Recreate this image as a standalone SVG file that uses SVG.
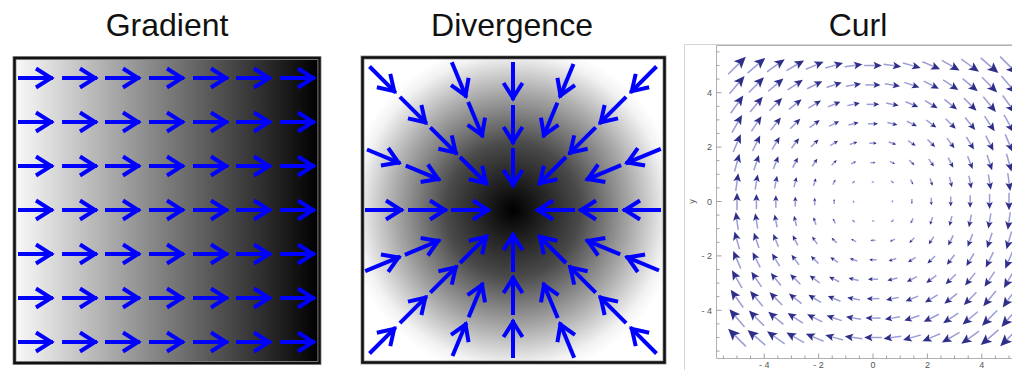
<svg xmlns="http://www.w3.org/2000/svg" xmlns:xlink="http://www.w3.org/1999/xlink" width="1012" height="370" viewBox="0 0 1012 370">
<style>
.title{font-family:"Liberation Sans",Arial,sans-serif;font-size:32px;fill:#111;text-anchor:middle}
.frame{fill:none;stroke:#111;stroke-width:2.5}
.frameo{fill:none;stroke:#9a9a9a;stroke-width:4}
.ba{fill:none;stroke:#0000ff;stroke-width:4;marker-end:url(#hd)}
.sh{fill:none;stroke:#9d9dd6;stroke-width:1.5;vector-effect:non-scaling-stroke}
.hdc{fill:#2f2f8a}
.tick{fill:none;stroke:#a0a0a0;stroke-width:1}
.tl{font-family:"Liberation Sans",Arial,sans-serif;font-size:9px;fill:#555}
</style>
<defs>
<marker id="hd" markerUnits="userSpaceOnUse" orient="auto" markerWidth="40" markerHeight="40" viewBox="-20 -20 40 40" refX="0" refY="0" overflow="visible">
<path d="M-17,-9.5 L-2,0 L-17,9.5" fill="none" stroke="#0000ff" stroke-width="4" stroke-linejoin="miter"/>
</marker>
<linearGradient id="lg" x1="14" y1="0" x2="318" y2="0" gradientUnits="userSpaceOnUse">
<stop offset="0" stop-color="#fafafa"/>
<stop offset="1" stop-color="#000"/>
</linearGradient>
<radialGradient id="rg" cx="513" cy="210" r="168" gradientUnits="userSpaceOnUse">
<stop offset="0" stop-color="#000"/>
<stop offset="0.4" stop-color="#4a4a4a"/>
<stop offset="0.7" stop-color="#a8a8a8"/>
<stop offset="0.92" stop-color="#f2f2f2"/>
<stop offset="1" stop-color="#fff"/>
</radialGradient>
<g id="ar" transform="scale(0.1302)">
<path class="sh" d="M-0.5 0H0.12"/>
<path class="hdc" d="M0.5 0L0.03 0.21L0.13 0L0.03 -0.21Z"/>
</g>
</defs>

<g id="titles">
<text class="title" x="167" y="36">Gradient</text>
<text class="title" x="512" y="36">Divergence</text>
<text class="title" x="858" y="36">Curl</text>
</g>

<g id="panel-gradient">
<rect x="14.5" y="58" width="305" height="305" fill="url(#lg)"/>
<rect class="frameo" x="14.5" y="58" width="305" height="305"/>
<rect class="frame" x="14.5" y="58" width="305" height="305"/>
<g id="grad-arrows">
<g id="grow">
<path class="ba" d="M18 78H53"/>
<path class="ba" d="M62 78H97"/>
<path class="ba" d="M105 78H140"/>
<path class="ba" d="M149 78H184"/>
<path class="ba" d="M193 78H228"/>
<path class="ba" d="M236 78H271"/>
<path class="ba" d="M280 78H315"/>
</g>
<use xlink:href="#grow" transform="translate(0,44)"/>
<use xlink:href="#grow" transform="translate(0,88)"/>
<use xlink:href="#grow" transform="translate(0,132)"/>
<use xlink:href="#grow" transform="translate(0,176)"/>
<use xlink:href="#grow" transform="translate(0,220)"/>
<use xlink:href="#grow" transform="translate(0,264)"/>
</g>
</g>

<g id="panel-divergence">
<rect x="362.5" y="57.5" width="302" height="305" fill="url(#rg)"/>
<rect class="frameo" x="362.5" y="57.5" width="302" height="305"/>
<rect class="frame" x="362.5" y="57.5" width="302" height="305"/>
<g id="div-arrows" transform="translate(513,210)">
<g id="dq">
<path class="ba" d="M0 -62V-23"/>
<path class="ba" d="M0 -105V-66"/>
<path class="ba" d="M0 -148V-110"/>
<path class="ba" d="M-44.8 -108.1L-30.2 -73"/>
<path class="ba" d="M-61.2 -147.8L-46.7 -112.7"/>
<path class="ba" d="M-53 -53L-25.5 -25.5"/>
<path class="ba" d="M-82.7 -82.7L-55.9 -55.9"/>
<path class="ba" d="M-113.1 -113.1L-86.3 -86.3"/>
<path class="ba" d="M-143.5 -143.5L-117.4 -117.4"/>
<path class="ba" d="M-107.2 -44.4L-73 -30.2"/>
<path class="ba" d="M-146 -60.5L-112.7 -46.7"/>
</g>
<use xlink:href="#dq" transform="rotate(90)"/>
<use xlink:href="#dq" transform="rotate(180)"/>
<use xlink:href="#dq" transform="rotate(270)"/>
</g>
</g>

<g id="panel-curl">
<path d="M684.5 370V44.5H1012" fill="none" stroke="#d4d4d4" stroke-width="1"/>
<path d="M1012 45.5H716.5V358.5H1012" fill="none" stroke="#b0b0b0" stroke-width="1"/>
<path class="tick" d="M716.5 92.7h5M716.5 147.1h5M716.5 201.5h5M716.5 255.9h5M716.5 310.3h5
M716.5 51.9h3M716.5 65.5h3M716.5 79.1h3M716.5 106.3h3M716.5 119.9h3M716.5 133.5h3M716.5 160.7h3M716.5 174.3h3M716.5 187.9h3M716.5 215.1h3M716.5 228.7h3M716.5 242.3h3M716.5 269.5h3M716.5 283.1h3M716.5 296.7h3M716.5 323.9h3M716.5 337.5h3M716.5 351.1h3"/>
<path class="tick" d="M764.2 358.5v-5M818.6 358.5v-5M873 358.5v-5M927.4 358.5v-5M981.8 358.5v-5
M723.4 358.5v-3M737 358.5v-3M750.6 358.5v-3M777.8 358.5v-3M791.4 358.5v-3M805 358.5v-3M832.2 358.5v-3M845.8 358.5v-3M859.4 358.5v-3M886.6 358.5v-3M900.2 358.5v-3M913.8 358.5v-3M941 358.5v-3M954.6 358.5v-3M968.2 358.5v-3M995.4 358.5v-3M1009 358.5v-3"/>
<g id="curl-labels">
<text class="tl" x="712" y="96" text-anchor="end">4</text>
<text class="tl" x="712" y="150.3" text-anchor="end">2</text>
<text class="tl" x="712" y="204.7" text-anchor="end">0</text>
<text class="tl" x="712" y="259.1" text-anchor="end">- 2</text>
<text class="tl" x="712" y="313.5" text-anchor="end">- 4</text>
<text class="tl" x="764.2" y="367.5" text-anchor="middle">- 4</text>
<text class="tl" x="818.6" y="367.5" text-anchor="middle">- 2</text>
<text class="tl" x="873" y="367.5" text-anchor="middle">0</text>
<text class="tl" x="927.4" y="367.5" text-anchor="middle">2</text>
<text class="tl" x="981.8" y="367.5" text-anchor="middle">4</text>
<text class="tl" x="695" y="201.5" text-anchor="middle" transform="rotate(-90 695 201.5)">y</text>
</g>
<g id="curl-field" transform="translate(873,201.5) scale(19.43)">
<g id="cq">
<use xlink:href="#ar" transform="matrix(0 1 -1 0 1 0)"/>
<use xlink:href="#ar" transform="matrix(1 1 -1 1 1 -1)"/>
<use xlink:href="#ar" transform="matrix(2 1 -1 2 1 -2)"/>
<use xlink:href="#ar" transform="matrix(3 1 -1 3 1 -3)"/>
<use xlink:href="#ar" transform="matrix(4 1 -1 4 1 -4)"/>
<use xlink:href="#ar" transform="matrix(5 1 -1 5 1 -5)"/>
<use xlink:href="#ar" transform="matrix(6 1 -1 6 1 -6)"/>
<use xlink:href="#ar" transform="matrix(7 1 -1 7 1 -7)"/>
<use xlink:href="#ar" transform="matrix(0 2 -2 0 2 0)"/>
<use xlink:href="#ar" transform="matrix(1 2 -2 1 2 -1)"/>
<use xlink:href="#ar" transform="matrix(2 2 -2 2 2 -2)"/>
<use xlink:href="#ar" transform="matrix(3 2 -2 3 2 -3)"/>
<use xlink:href="#ar" transform="matrix(4 2 -2 4 2 -4)"/>
<use xlink:href="#ar" transform="matrix(5 2 -2 5 2 -5)"/>
<use xlink:href="#ar" transform="matrix(6 2 -2 6 2 -6)"/>
<use xlink:href="#ar" transform="matrix(7 2 -2 7 2 -7)"/>
<use xlink:href="#ar" transform="matrix(0 3 -3 0 3 0)"/>
<use xlink:href="#ar" transform="matrix(1 3 -3 1 3 -1)"/>
<use xlink:href="#ar" transform="matrix(2 3 -3 2 3 -2)"/>
<use xlink:href="#ar" transform="matrix(3 3 -3 3 3 -3)"/>
<use xlink:href="#ar" transform="matrix(4 3 -3 4 3 -4)"/>
<use xlink:href="#ar" transform="matrix(5 3 -3 5 3 -5)"/>
<use xlink:href="#ar" transform="matrix(6 3 -3 6 3 -6)"/>
<use xlink:href="#ar" transform="matrix(7 3 -3 7 3 -7)"/>
<use xlink:href="#ar" transform="matrix(0 4 -4 0 4 0)"/>
<use xlink:href="#ar" transform="matrix(1 4 -4 1 4 -1)"/>
<use xlink:href="#ar" transform="matrix(2 4 -4 2 4 -2)"/>
<use xlink:href="#ar" transform="matrix(3 4 -4 3 4 -3)"/>
<use xlink:href="#ar" transform="matrix(4 4 -4 4 4 -4)"/>
<use xlink:href="#ar" transform="matrix(5 4 -4 5 4 -5)"/>
<use xlink:href="#ar" transform="matrix(6 4 -4 6 4 -6)"/>
<use xlink:href="#ar" transform="matrix(7 4 -4 7 4 -7)"/>
<use xlink:href="#ar" transform="matrix(0 5 -5 0 5 0)"/>
<use xlink:href="#ar" transform="matrix(1 5 -5 1 5 -1)"/>
<use xlink:href="#ar" transform="matrix(2 5 -5 2 5 -2)"/>
<use xlink:href="#ar" transform="matrix(3 5 -5 3 5 -3)"/>
<use xlink:href="#ar" transform="matrix(4 5 -5 4 5 -4)"/>
<use xlink:href="#ar" transform="matrix(5 5 -5 5 5 -5)"/>
<use xlink:href="#ar" transform="matrix(6 5 -5 6 5 -6)"/>
<use xlink:href="#ar" transform="matrix(7 5 -5 7 5 -7)"/>
<use xlink:href="#ar" transform="matrix(0 6 -6 0 6 0)"/>
<use xlink:href="#ar" transform="matrix(1 6 -6 1 6 -1)"/>
<use xlink:href="#ar" transform="matrix(2 6 -6 2 6 -2)"/>
<use xlink:href="#ar" transform="matrix(3 6 -6 3 6 -3)"/>
<use xlink:href="#ar" transform="matrix(4 6 -6 4 6 -4)"/>
<use xlink:href="#ar" transform="matrix(5 6 -6 5 6 -5)"/>
<use xlink:href="#ar" transform="matrix(6 6 -6 6 6 -6)"/>
<use xlink:href="#ar" transform="matrix(7 6 -6 7 6 -7)"/>
<use xlink:href="#ar" transform="matrix(0 7 -7 0 7 0)"/>
<use xlink:href="#ar" transform="matrix(1 7 -7 1 7 -1)"/>
<use xlink:href="#ar" transform="matrix(2 7 -7 2 7 -2)"/>
<use xlink:href="#ar" transform="matrix(3 7 -7 3 7 -3)"/>
<use xlink:href="#ar" transform="matrix(4 7 -7 4 7 -4)"/>
<use xlink:href="#ar" transform="matrix(5 7 -7 5 7 -5)"/>
<use xlink:href="#ar" transform="matrix(6 7 -7 6 7 -6)"/>
<use xlink:href="#ar" transform="matrix(7 7 -7 7 7 -7)"/>
</g>
<use xlink:href="#cq" transform="rotate(90)"/>
<use xlink:href="#cq" transform="rotate(180)"/>
<use xlink:href="#cq" transform="rotate(270)"/>
</g>
</g>
</svg>
